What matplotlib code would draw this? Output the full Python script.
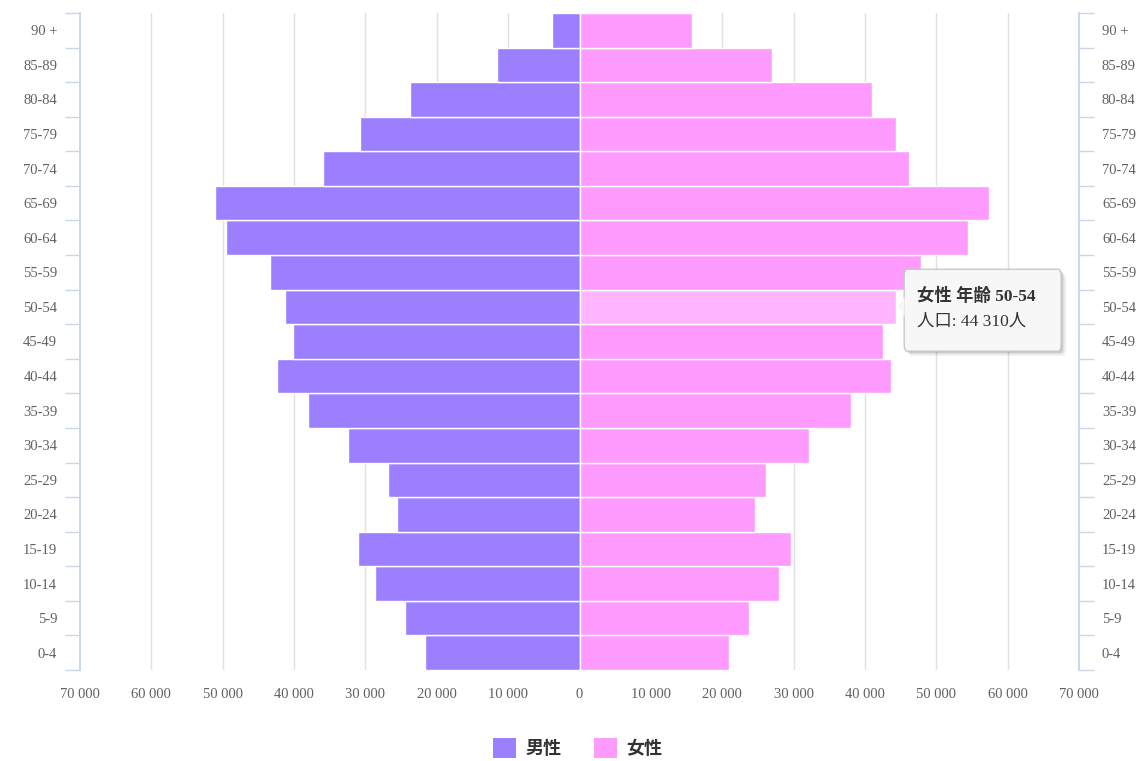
import matplotlib
matplotlib.use("Agg")
import matplotlib.pyplot as plt
from matplotlib.patches import FancyBboxPatch, Polygon, Patch
from matplotlib.ticker import FuncFormatter, FixedLocator
import numpy as np

plt.rcParams['font.family'] = ['Liberation Serif', 'Noto Sans CJK JP', 'DejaVu Sans']

age_groups = ['0-4', '5-9', '10-14', '15-19', '20-24', '25-29', '30-34', '35-39',
              '40-44', '45-49', '50-54', '55-59', '60-64', '65-69', '70-74',
              '75-79', '80-84', '85-89', '90 +']
male = [21700, 24400, 28700, 31000, 25600, 26800, 32500, 38000, 42400, 40200,
        41300, 43400, 49600, 51100, 36000, 30800, 23700, 11600, 3800]
female = [20900, 23700, 27900, 29600, 24600, 26200, 32200, 38000, 43700, 42600,
          44310, 47800, 54500, 57400, 46200, 44300, 41000, 27000, 15800]
series_names = ['男性', '女性']
tooltip_title = '女性 年齢 50-54'
tooltip_value = '人口: 44 310人'
hover_index = 10

male_color = '#9b7fff'
female_color = '#ff9bff'
hover_color = '#ffb5ff'
label_color = '#606060'
axis_color = '#ccd6eb'
grid_color = '#e0e0e0'

W, H = 1144, 761
fig = plt.figure(figsize=(W / 100, H / 100), dpi=100)
ax = fig.add_axes([80 / W, 1 - 670 / H, (1079 - 80) / W, (670 - 13) / H])

y = np.arange(len(age_groups))
fcolors = [hover_color if i == hover_index else female_color for i in range(len(age_groups))]
ax.barh(y, [-v for v in male], height=1.0, color=male_color, edgecolor='white', linewidth=1.0, zorder=3)
ax.barh(y, female, height=1.0, color=fcolors, edgecolor='white', linewidth=1.0, zorder=3)

ax.set_xlim(-70000, 70000)
ax.set_ylim(-0.5, len(age_groups) - 0.5)

ticks = np.arange(-70000, 70001, 10000)
ax.set_xticks(ticks)
ax.xaxis.set_major_formatter(FuncFormatter(lambda v, p: f"{abs(int(v)):,}".replace(',', ' ')))
ax.tick_params(axis='x', length=0, pad=13, labelsize=10.5, labelcolor=label_color)
for v in ticks[1:-1]:
    ax.axvline(v, color=grid_color, linewidth=1, zorder=1)

ax2 = ax.twinx()
ax2.set_ylim(ax.get_ylim())
for a in (ax, ax2):
    a.yaxis.set_major_locator(FixedLocator(np.arange(-0.5, len(age_groups), 1.0)))
    a.yaxis.set_minor_locator(FixedLocator(y))
    a.yaxis.set_major_formatter(FuncFormatter(lambda v, p: ''))
    a.set_yticklabels(age_groups, minor=True)
    a.tick_params(axis='y', which='major', length=10.5, width=1, color=axis_color)
    a.tick_params(axis='y', which='minor', length=0, pad=16.5, labelsize=10.5, labelcolor=label_color)
    for s in ('top', 'bottom'):
        a.spines[s].set_visible(False)
    a.spines['left'].set_color(axis_color)
    a.spines['right'].set_color(axis_color)
    a.spines['left'].set_linewidth(1.2)
    a.spines['right'].set_linewidth(1.2)

# tooltip
x0, x1 = 45500, 67500
yb, yt = 8.72, 11.09
yc = hover_index
for k, al in ((700, 0.05), (450, 0.08), (250, 0.1)):
    ax.add_patch(FancyBboxPatch((x0 + k, yb - k / 5000), x1 - x0, yt - yb,
                                boxstyle="round,pad=0,rounding_size=400", facecolor='#000000',
                                alpha=al, edgecolor='none', zorder=5, mutation_aspect=1 / 2000))
box = FancyBboxPatch((x0, yb), x1 - x0, yt - yb,
                     boxstyle="round,pad=0,rounding_size=400", facecolor='#f7f7f7',
                     edgecolor='#c8c8c8', linewidth=1, zorder=6, mutation_aspect=1 / 2000)
ax.add_patch(box)
tri = Polygon([[x0 + 60, yc + 0.3], [x0 - 900, yc], [x0 + 60, yc - 0.3]], closed=True,
              facecolor='#f7f7f7', edgecolor='none', zorder=7)
ax.add_patch(tri)
ax.text(x0 + 1800, yc + 0.3, tooltip_title, fontsize=12.5, fontweight='bold', color='#333333',
        va='center', ha='left', zorder=8)
ax.text(x0 + 1800, yc - 0.42, tooltip_value, fontsize=12.5, color='#333333',
        va='center', ha='left', zorder=8)

handles = [Patch(facecolor=male_color, edgecolor='none'), Patch(facecolor=female_color, edgecolor='none')]
fig.legend(handles, series_names, loc='center', bbox_to_anchor=(0.505, 1 - 748 / H), ncol=2,
           frameon=False, handlelength=1.3, handleheight=1.3, handletextpad=0.5, columnspacing=1.8,
           prop={'size': 13, 'weight': 'bold'}, labelcolor='#333333')

fig.savefig('out.png', dpi=100)
